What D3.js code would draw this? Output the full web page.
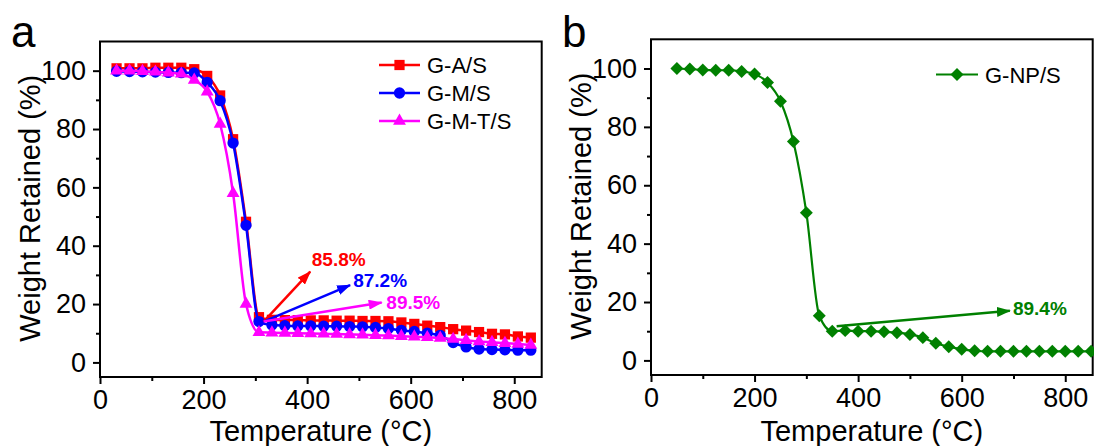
<!DOCTYPE html>
<html>
<head>
<meta charset="utf-8">
<script src="https://cdn.jsdelivr.net/npm/d3@7"></script>
<style>
  html, body { margin: 0; padding: 0; background: #fff; }
  svg { display: block; }
  text { font-family: "Liberation Sans", Arial, sans-serif; fill: #000; }
</style>
</head>
<body>
<svg id="fig" width="1094" height="446"></svg>
<script>
// ---- Panel a: TGA curves of the three samples ----
const tempsA = [32, 57, 82, 107, 132, 157, 182, 207, 232, 257, 282, 307, 332, 357, 382, 407, 432,
                457, 482, 507, 532, 557, 582, 607, 632, 657, 682, 707, 732, 757, 782, 807, 832];
const weightGAS = [100.8, 100.8, 100.8, 101.0, 101.0, 101.0, 100.5, 98.2, 91.5, 76.5, 48.2, 15.5, 14.6,
                   14.5, 14.5, 14.4, 14.4, 14.3, 14.3, 14.2, 14.2, 14.1, 13.7, 13.2, 12.6, 12.1, 11.4,
                   10.9, 10.4, 9.8, 9.6, 8.9, 8.5];
const weightGMS = [99.8, 99.7, 99.6, 99.5, 99.4, 99.3, 99.2, 96.0, 89.7, 75.2, 47.0, 14.0, 12.8,
                   12.6, 12.5, 12.5, 12.4, 12.4, 12.3, 12.2, 12.0, 11.6, 11.0, 10.6, 10.0, 9.3, 6.8,
                   5.3, 4.6, 4.4, 4.3, 4.2, 4.2];
const weightGMTS = [100.0, 100.0, 99.8, 99.6, 99.3, 98.9, 96.8, 92.8, 81.7, 58.0, 20.0, 10.3, 10.2,
                    10.1, 10.0, 9.9, 9.8, 9.7, 9.6, 9.5, 9.3, 9.2, 9.0, 8.8, 8.6, 8.4, 8.0,
                    7.6, 7.2, 6.9, 6.6, 6.3, 6.0];
const seriesNamesA = ["G-A/S", "G-M/S", "G-M-T/S"];
// weight-loss callouts: label, arrow tip (°C, %), label anchor (°C, %)
const lossLabelsA = ["85.8%", "87.2%", "89.5%"];
const arrowTipsA = [[406, 31.1], [483, 26.5], [544, 20.5]];
const labelPosA = [[409, 33.0], [489, 26.0], [553, 18.3]];
const arrowStartA = [316, 14.0];

// ---- Panel b: TGA curve of G-NP/S ----
const tempsB = [50, 75, 100, 125, 150, 175, 200, 225, 250, 275, 300, 325, 350, 375, 400, 425, 450,
                475, 500, 525, 550, 575, 600, 625, 650, 675, 700, 725, 750, 775, 800, 825, 850];
const weightGNPS = [100.0, 99.8, 99.5, 99.4, 99.4, 99.0, 98.1, 95.2, 88.8, 75.0, 50.6, 15.3, 10.0,
                    10.2, 10.0, 10.0, 9.8, 9.5, 8.9, 7.8, 5.9, 4.7, 3.8, 3.3, 3.1, 3.1, 3.1,
                    3.1, 3.1, 3.1, 3.1, 3.1, 3.1];
const seriesNamesB = ["G-NP/S"];
const lossLabelsB = ["89.4%"];
const arrowTipsB = [[693, 17.0]];
const labelPosB = [[699, 15.7]];
const arrowStartB = [358.5, 11.7];

// shared axis ticks
const xMajor = [0, 200, 400, 600, 800];
const xMinor = [100, 300, 500, 700];
const yMajor = [0, 20, 40, 60, 80, 100];
const yMinor = [10, 30, 50, 70, 90];

const svg = d3.select("#fig");
const defs = svg.append("defs");

function arrowMarker(id, color) {
  defs.append("marker")
    .attr("id", id)
    .attr("viewBox", "0 0 14 10")
    .attr("refX", 13).attr("refY", 5)
    .attr("markerWidth", 14).attr("markerHeight", 10)
    .attr("markerUnits", "userSpaceOnUse")
    .attr("orient", "auto")
    .append("path")
    .attr("d", "M0,0 L14,5 L0,10 Z")
    .attr("fill", color);
}

const symbolGen = (type, size) => d3.symbol().type(type).size(size)();

function drawPanel(cfg) {
  const g = svg.append("g");
  const x = d3.scaleLinear().domain([0, 853]).range([cfg.left, cfg.right]);
  const y = d3.scaleLinear().domain([-5, 110]).range([cfg.bottom, cfg.top]);

  // axes with major and minor ticks
  const xAxis = g.append("g").attr("transform", `translate(0,${cfg.bottom})`)
    .call(d3.axisBottom(x).tickValues(xMajor).tickSize(7).tickPadding(6).tickSizeOuter(0));
  const xAxisMinor = g.append("g").attr("transform", `translate(0,${cfg.bottom})`)
    .call(d3.axisBottom(x).tickValues(xMinor).tickSize(4).tickFormat("").tickSizeOuter(0));
  const yAxis = g.append("g").attr("transform", `translate(${cfg.left},0)`)
    .call(d3.axisLeft(y).tickValues(yMajor).tickSize(7).tickPadding(7).tickSizeOuter(0));
  const yAxisMinor = g.append("g").attr("transform", `translate(${cfg.left},0)`)
    .call(d3.axisLeft(y).tickValues(yMinor).tickSize(4).tickFormat("").tickSizeOuter(0));
  [xAxis, xAxisMinor, yAxis, yAxisMinor].forEach(a => {
    a.select(".domain").remove();
    a.selectAll(".tick line").attr("stroke", "#000").attr("stroke-width", 2);
    a.selectAll(".tick text").attr("font-size", 27).attr("fill", "#000")
      .style("font-family", '"Liberation Sans", Arial, sans-serif');
  });

  // plot frame
  g.append("rect")
    .attr("x", cfg.left).attr("y", cfg.top)
    .attr("width", cfg.right - cfg.left).attr("height", cfg.bottom - cfg.top)
    .attr("fill", "none").attr("stroke", "#000").attr("stroke-width", 2);

  // axis titles
  g.append("text")
    .attr("x", (cfg.left + cfg.right) / 2).attr("y", 441)
    .attr("text-anchor", "middle").attr("font-size", 29)
    .text("Temperature (°C)");
  g.append("text")
    .attr("transform", `translate(${cfg.left - 60},${(cfg.top + cfg.bottom) / 2 - 1}) rotate(-90)`)
    .attr("text-anchor", "middle").attr("font-size", 29)
    .text("Weight Retained (%)");

  // panel letter
  g.append("text").attr("x", cfg.letterX).attr("y", 47)
    .attr("font-size", 44).text(cfg.letter);

  // series
  const line = d3.line().x(d => x(d[0])).y(d => y(d[1])).curve(d3.curveMonotoneX);
  cfg.series.forEach(s => {
    const pts = s.temps.map((t, i) => [t, s.values[i]]);
    const sg = g.append("g");
    sg.append("path").attr("d", line(pts))
      .attr("fill", "none").attr("stroke", s.color).attr("stroke-width", s.width);
    sg.selectAll("path.pt").data(pts).join("path").attr("class", "pt")
      .attr("d", symbolGen(s.symbol, s.size))
      .attr("transform", d => `translate(${x(d[0])},${y(d[1])}) rotate(${s.rotate || 0})`)
      .attr("fill", s.color);
  });

  // legend
  cfg.series.forEach((s, i) => {
    const ly = cfg.legendY + i * cfg.legendStep;
    g.append("line")
      .attr("x1", cfg.legendX).attr("x2", cfg.legendX + cfg.legendLen)
      .attr("y1", ly).attr("y2", ly)
      .attr("stroke", s.color).attr("stroke-width", s.width);
    g.append("path")
      .attr("d", symbolGen(s.symbol, s.size))
      .attr("transform", `translate(${cfg.legendX + cfg.legendLen / 2},${ly}) rotate(${s.rotate || 0})`)
      .attr("fill", s.color);
    g.append("text")
      .attr("x", cfg.legendX + cfg.legendLen + 7).attr("y", ly + 8)
      .attr("font-size", 22).text(s.name);
  });

  // weight-loss arrows
  cfg.arrows.forEach((a, i) => {
    const id = `arrow-${cfg.letter}-${i}`;
    arrowMarker(id, a.color);
    g.append("line")
      .attr("x1", x(cfg.arrowStart[0])).attr("y1", y(cfg.arrowStart[1]))
      .attr("x2", x(a.tip[0])).attr("y2", y(a.tip[1]))
      .attr("stroke", a.color).attr("stroke-width", 2.5)
      .attr("marker-end", `url(#${id})`);
    g.append("text")
      .attr("x", x(a.pos[0])).attr("y", y(a.pos[1]))
      .attr("font-size", 19).attr("font-weight", "bold")
      .style("fill", a.color).text(a.label);
  });
}

const colorsA = ["#ff0000", "#0000ff", "#ff00ff"];

drawPanel({
  letter: "a", letterX: 11,
  left: 100, right: 541.7, top: 41.5, bottom: 377,
  legendX: 379, legendY: 65, legendStep: 28, legendLen: 41,
  arrowStart: arrowStartA,
  series: [
    { name: seriesNamesA[0], temps: tempsA, values: weightGAS, color: colorsA[0], symbol: d3.symbolSquare, size: 105, width: 2.5 },
    { name: seriesNamesA[1], temps: tempsA, values: weightGMS, color: colorsA[1], symbol: d3.symbolCircle, size: 100, width: 2.5 },
    { name: seriesNamesA[2], temps: tempsA, values: weightGMTS, color: colorsA[2], symbol: d3.symbolTriangle, size: 72, width: 2.5 }
  ],
  arrows: lossLabelsA.map((l, i) => ({ label: l, tip: arrowTipsA[i], pos: labelPosA[i], color: colorsA[i] }))
});

drawPanel({
  letter: "b", letterX: 562,
  left: 651, right: 1092.7, top: 39.3, bottom: 375,
  legendX: 936, legendY: 74.5, legendStep: 28, legendLen: 42,
  arrowStart: arrowStartB,
  series: [
    { name: seriesNamesB[0], temps: tempsB, values: weightGNPS, color: "#008000", symbol: d3.symbolSquare, size: 84, rotate: 45, width: 2.2 }
  ],
  arrows: lossLabelsB.map((l, i) => ({ label: l, tip: arrowTipsB[i], pos: labelPosB[i], color: "#008000" }))
});
</script>
</body>
</html>
